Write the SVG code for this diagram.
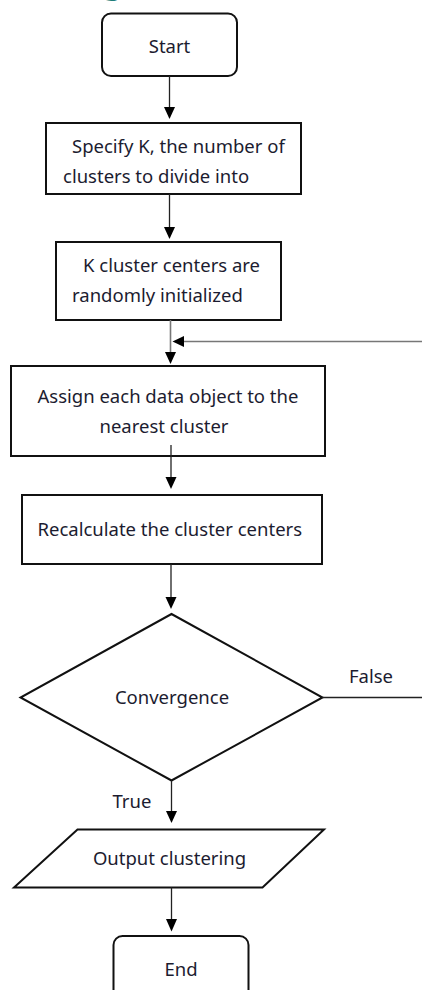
<svg xmlns="http://www.w3.org/2000/svg" width="422" height="990" viewBox="0 0 422 990">
  <style>
    .box { fill: #ffffff; stroke: #111111; stroke-width: 2; }
    .lbl { font-family: "Noto Sans", "Open Sans", sans-serif; font-size: 18.5px; fill: #1c1c30; }
    .edge { fill: none; stroke: #222222; stroke-width: 1.3; }
    .edge-gray { fill: none; stroke: #777777; stroke-width: 1.6; }
    .head { fill: #000000; }
  </style>

  <rect width="422" height="990" fill="#ffffff"/>

  <!-- heading descender peeking in at the top edge -->
  <text x="100" y="-7" font-family="Liberation Sans, sans-serif" font-weight="bold" font-size="40" fill="#1f7d78">g</text>

  <g id="start">
    <rect class="box" x="102" y="13.5" width="135" height="62.5" rx="9"/>
    <text class="lbl" x="169.5" y="52.5" text-anchor="middle">Start</text>
  </g>

  <g id="specify-k">
    <rect class="box" x="46" y="123" width="255" height="71"/>
    <text class="lbl" x="72" y="153">Specify K, the number of</text>
    <text class="lbl" x="63" y="183">clusters to divide into</text>
  </g>

  <g id="init-centers">
    <rect class="box" x="56" y="242" width="225" height="78"/>
    <text class="lbl" x="83" y="272">K cluster centers are</text>
    <text class="lbl" x="72" y="302">randomly initialized</text>
  </g>

  <g id="assign">
    <rect class="box" x="11" y="366" width="314" height="90"/>
    <text class="lbl" x="37.5" y="403">Assign each data object to the</text>
    <text class="lbl" x="99.5" y="432.5">nearest cluster</text>
  </g>

  <g id="recalculate">
    <rect class="box" x="22" y="495" width="300" height="69"/>
    <text class="lbl" x="37.5" y="536">Recalculate the cluster centers</text>
  </g>

  <g id="convergence">
    <polygon class="box" points="171.5,614 322.5,697.5 171.5,780.5 20.5,697.5"/>
    <text class="lbl" x="172" y="704" text-anchor="middle">Convergence</text>
  </g>

  <g id="output">
    <polygon class="box" points="77.5,829.5 324,829.5 262.5,887.5 14,887.5"/>
    <text class="lbl" x="169.5" y="865" text-anchor="middle">Output clustering</text>
  </g>

  <g id="end">
    <rect class="box" x="113.5" y="936" width="135" height="70" rx="9"/>
    <text class="lbl" x="181" y="975.5" text-anchor="middle">End</text>
  </g>

  <g id="connectors">
    <!-- Start -> Specify K -->
    <line class="edge" x1="169.5" y1="76" x2="169.5" y2="108"/>
    <polygon class="head" points="164,107 175,107 169.5,119"/>

    <!-- Specify K -> init centers -->
    <line class="edge" x1="169.5" y1="194" x2="169.5" y2="228"/>
    <polygon class="head" points="164,227 175,227 169.5,239"/>

    <!-- init centers -> assign -->
    <line class="edge-gray" x1="170.5" y1="320" x2="170.5" y2="353"/>
    <polygon class="head" points="165,352 176,352 170.5,364"/>

    <!-- loop back from the False branch -->
    <line class="edge-gray" x1="422" y1="341.5" x2="183" y2="341.5"/>
    <polygon class="head" points="184,336 184,347 172.5,341.5"/>

    <!-- assign -> recalculate -->
    <line class="edge" x1="171" y1="445" x2="171" y2="478"/>
    <polygon class="head" points="165.5,477 176.5,477 171,489"/>

    <!-- recalculate -> convergence -->
    <line class="edge" x1="171" y1="564" x2="171" y2="598"/>
    <polygon class="head" points="165.5,597 176.5,597 171,609"/>

    <!-- False branch -->
    <line class="edge" x1="322.5" y1="697.5" x2="422" y2="697.5"/>
    <text class="lbl" x="349" y="682.5">False</text>

    <!-- True branch -->
    <line class="edge" x1="171.5" y1="780.5" x2="171.5" y2="812"/>
    <polygon class="head" points="166,811 177,811 171.5,823"/>
    <text class="lbl" x="112.5" y="807.5">True</text>

    <!-- output -> end -->
    <line class="edge" x1="171.5" y1="887.5" x2="171.5" y2="920"/>
    <polygon class="head" points="166,919 177,919 171.5,931.5"/>
  </g>
</svg>
